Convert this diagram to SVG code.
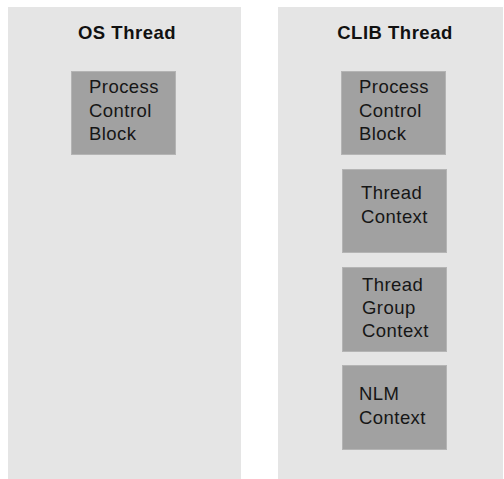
<svg xmlns="http://www.w3.org/2000/svg" width="504" height="479" viewBox="0 0 504 479">
  <style>
    .panel { fill: #e5e5e5; }
    .box { fill: #a1a1a1; stroke: #b4b4b4; stroke-width: 1; }
    .title { font-family: "Liberation Sans", Arial, sans-serif; font-size: 18.5px; font-weight: bold; letter-spacing: 0.5px; fill: #111; text-anchor: middle; }
    .label { font-family: "Liberation Sans", Arial, sans-serif; font-size: 18.5px; letter-spacing: 0.45px; fill: #161616; }
  </style>
  <rect width="504" height="479" fill="#ffffff"/>

  <g id="os-thread">
    <rect class="panel" x="8" y="7" width="233" height="472"/>
    <text class="title" x="127" y="39">OS Thread</text>
  </g>
  <g id="os-pcb">
    <rect class="box" x="71.5" y="71.5" width="104" height="83"/>
    <text class="label" x="89" y="93">Process</text>
    <text class="label" x="89" y="116.5">Control</text>
    <text class="label" x="89" y="140">Block</text>
  </g>

  <g id="clib-thread">
    <rect class="panel" x="278" y="7" width="225" height="472"/>
    <text class="title" x="395" y="39">CLIB Thread</text>
  </g>
  <g id="clib-pcb">
    <rect class="box" x="341.5" y="71.5" width="104" height="83"/>
    <text class="label" x="359" y="93">Process</text>
    <text class="label" x="359" y="116.5">Control</text>
    <text class="label" x="359" y="140">Block</text>
  </g>
  <g id="clib-thread-context">
    <rect class="box" x="342.5" y="169.5" width="104" height="83"/>
    <text class="label" x="361" y="199">Thread</text>
    <text class="label" x="361" y="223">Context</text>
  </g>
  <g id="clib-thread-group-context">
    <rect class="box" x="342.5" y="267.5" width="104" height="84"/>
    <text class="label" x="362" y="291">Thread</text>
    <text class="label" x="362" y="314">Group</text>
    <text class="label" x="362" y="337">Context</text>
  </g>
  <g id="clib-nlm-context">
    <rect class="box" x="342.5" y="365.5" width="104" height="84"/>
    <text class="label" x="359" y="400">NLM</text>
    <text class="label" x="359" y="424">Context</text>
  </g>

  <g id="connectors"/>
</svg>
